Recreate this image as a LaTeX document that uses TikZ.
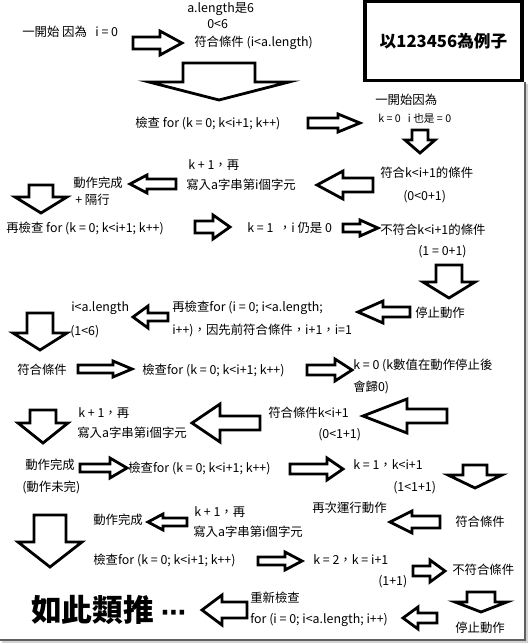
\documentclass[tikz,border=0pt]{standalone}
\usepackage{fontspec}
\setmainfont{Noto Sans CJK TC}
\newfontfamily\djfont{DejaVu Sans}
\newcommand\barr[6]{\draw[blk] (#1,#4-#5) -- (#2,#4-#5) -- (#2,#4-#6) -- (#3,#4) -- (#2,#4+#6) -- (#2,#4+#5) -- (#1,#4+#5) -- cycle;}
\newcommand\darr[6]{\draw[blk] (#1-#5,#2) -- (#1+#5,#2) -- (#1+#5,#3) -- (#1+#6,#3) -- (#1,#4) -- (#1-#6,#3) -- (#1-#5,#3) -- cycle;}
\begin{document}
\begin{tikzpicture}[x=0.75pt,y=-0.75pt,
  blk/.style={draw=black,line width=2.1pt,fill=white,line join=miter},
  txt/.style={anchor=west,inner sep=0pt,font=\fontsize{9.3}{11}\selectfont},
  sml/.style={anchor=west,inner sep=0pt,font=\fontsize{8}{9}\selectfont}]
\useasboundingbox (0,0) rectangle (529,644);
\fill[white] (0,0) rectangle (529,644);
% frame
\draw[gray!35,line width=2pt] (527,84) -- (527,642) -- (2,642);
\draw[gray!75!black,line width=1.2pt] (525,82) -- (525,640) -- (0,640);
\node (box) [draw,line width=2.6pt,minimum width=118pt,minimum height=59pt,inner sep=0pt,font=\fontsize{12.5}{14}\selectfont\bfseries] at (443.5,41) {以123456為例子};
% row 1
\node[txt] (a1) at (22,32) {一開始 因為\ \ \ i = 0};
\node[txt] (a2) at (187,9) {a.length是6};
\node[txt] (a3) at (207,24) {0<6};
\node[txt] (a4) at (194,43) {符合條件 (i<a.length)};
\barr{133}{160}{182}{43}{6}{12}
\darr{219}{63}{82}{100}{36}{70}
% row 2
\node[txt] (b1) at (135,123) {檢查 for (k = 0; k<i+1; k++)};
\barr{308}{338}{360}{123}{5}{9}
\node[txt] (b2) at (375,100) {一開始因為};
\node[sml] (b3) at (378,118) {k = 0\ \ \ i 也是 = 0};
\darr{420}{130}{140}{153}{8}{15}
% row 3
\node[txt] (c1) at (380,173) {符合k<i+1的條件};
\node[txt] (c2) at (403,197) {(0<0+1)};
\barr{373}{343}{317}{185}{7}{14}
\node[txt] (c3) at (188,165) {k + 1，再};
\node[txt] (c4) at (186,185) {寫入a字串第i個字元};
\barr{176}{147}{130}{184}{5}{9}
\node[txt] (c5) at (73,183) {動作完成};
\node[txt] (c6) at (75,200) {+ 隔行};
\darr{41}{185}{197}{213}{12}{26}
% row 4
\node[txt] (d1) at (6,228) {再檢查 for (k = 0; k<i+1; k++)};
\barr{195}{213}{230}{227}{6}{12}
\node[txt] (d2) at (247,228) {k = 1\ \ ，i 仍是 0};
\barr{343}{360}{378}{228}{4}{8}
\node[txt] (d3) at (380,230) {不符合k<i+1的條件};
\node[txt] (d4) at (418,252) {(1 = 0+1)};
\darr{449}{265}{282}{298}{13}{26}
% row 5
\node[txt] (e1) at (415,313) {停止動作};
\barr{410}{383}{358}{312}{5}{11}
\node[txt] (e2) at (172,308) {再檢查for (i = 0; i<a.length;};
\node[txt] (e3) at (172,330) {i++)，因先前符合條件，i+1，i=1};
\barr{168}{148}{133}{317}{4}{11}
\node[txt] (e4) at (71,308) {i<a.length};
\node[txt] (e5) at (70,332) {(1<6)};
\darr{40}{313}{333}{350}{13}{27}
% row 6
\node[txt] (f1) at (17,370) {符合條件};
\barr{78}{113}{132}{369}{4}{8}
\node[txt] (f2) at (142,370) {檢查for (k = 0; k<i+1; k++)};
\barr{307}{335}{352}{370}{5}{11}
\node[txt] (f3) at (353,365) {k = 0 (k數值在動作停止後};
\node[txt] (f4) at (353,387) {會歸0)};
% row 7
\node[txt] (g1) at (268,413) {符合條件k<i+1};
\node[txt] (g2) at (318,435) {(0<1+1)};
\barr{447}{407}{363}{416}{7}{17}
\node[txt] (g3) at (78,413) {k + 1，再};
\node[txt] (g4) at (77,433) {寫入a字串第i個字元};
\barr{260}{220}{192}{423}{7}{19}
\darr{43}{410}{423}{443}{13}{25}
% row 8
\node[txt] (h1) at (25,465) {動作完成};
\node[txt] (h2) at (22,487) {(動作未完)};
\barr{80}{110}{127}{468}{4}{10}
\node[txt] (h3) at (128,468) {檢查for (k = 0; k<i+1; k++)};
\barr{290}{327}{343}{469}{5}{11}
\node[txt] (h4) at (353,465) {k = 1，k<i+1};
\node[txt] (h5) at (393,488) {(1<1+1)};
\darr{475}{465}{475}{488}{12}{27}
% row 9
\node[txt] (i1) at (455,522) {符合條件};
\barr{440}{412}{390}{522}{6}{11}
\node[txt] (i2) at (312,508) {再次運行動作};
\node[txt] (i3) at (194,512) {k + 1，再};
\node[txt] (i4) at (193,532) {寫入a字串第i個字元};
\barr{187}{163}{148}{522}{4}{8}
\node[txt] (i5) at (93,520) {動作完成};
\darr{50}{515}{542}{567}{16}{32}
% row 10
\node[txt] (j1) at (93,560) {檢查for (k = 0; k<i+1; k++)};
\barr{258}{285}{302}{561}{4}{9}
\node[txt] (j2) at (313,560) {k = 2，k = i+1};
\node[txt] (j3) at (378,582) {(1+1)};
\barr{413}{430}{445}{571}{5}{11}
\node[txt] (j4) at (452,570) {不符合條件};
\darr{481}{592}{602}{612}{14}{26}
\node[txt] (j5) at (455,628) {停止動作};
% row 11
\barr{437}{418}{403}{618}{5}{11}
\node[txt] (k1) at (250,598) {重新檢查};
\node[txt] (k2) at (250,620) {for (i = 0; i<a.length; i++)};
\barr{247}{222}{202}{610}{8}{15}
\node[anchor=west,inner sep=0pt,font=\fontsize{23}{26}\selectfont\bfseries] (k3) at (31,610) {如此類推 {\djfont\bfseries\fontsize{19}{20}\selectfont ⋯}};
\end{tikzpicture}
\end{document}
